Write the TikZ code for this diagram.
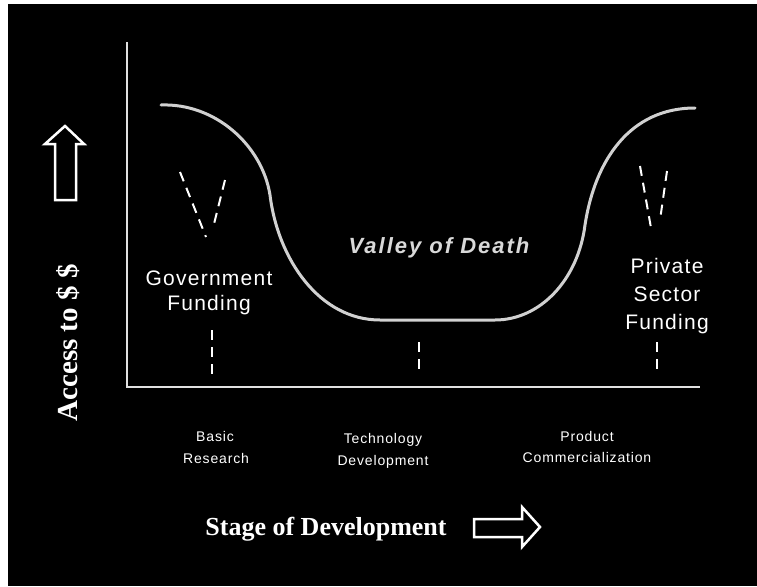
\documentclass[tikz,border=0pt]{standalone}
\usepackage{fontspec}
\setmainfont{Liberation Serif}
\newfontfamily\labelsans[LetterSpace=6]{Liberation Sans}
\newfontfamily\smallsans[LetterSpace=6]{Liberation Sans}
\newfontfamily\valleysans[LetterSpace=9]{Liberation Sans}
\begin{document}
\begin{tikzpicture}[x=1pt,y=-1pt,
  axisline/.style={draw=white!88!black,line width=2pt},
  curveline/.style={draw=white!82!black,line width=3pt,line cap=round},
  dashline/.style={draw=white,line width=2pt,dash pattern=on 10pt off 7pt},
  bigarrow/.style={draw=white,line width=2.5pt,line join=miter},
  fundlabel/.style={text=white,inner sep=0pt,anchor=base,font=\labelsans\fontsize{21}{25}\selectfont},
  stagelabel/.style={text=white,inner sep=0pt,anchor=base,font=\smallsans\fontsize{14}{17}\selectfont},
  axistitle/.style={text=white,inner sep=0pt,font=\bfseries\fontsize{26}{30}\selectfont}]
% page: thin white margin on the left and top, black field
\useasboundingbox (0,0) rectangle (757,586);
\fill[white] (0,0) rectangle (757,586);
\fill[black] (8,4) rectangle (757,586);

% axes
\coordinate (ytop) at (127,42);
\coordinate (origin) at (127,387);
\coordinate (xend) at (700,387);
\draw[axisline] (ytop) -- (origin) -- (xend);

% funding curve with the valley
\draw[curveline] (161,105) .. controls (215,103) and (262,145) .. (270,195)
  .. controls (278,260) and (320,320) .. (380,320)
  -- (495,320)
  .. controls (540,320) and (578,280) .. (585,225)
  .. controls (595,160) and (630,108) .. (695,108);

% dashed funnels
\coordinate (gl1) at (180,172); \coordinate (gl2) at (206,237);
\coordinate (gr1) at (225,180); \coordinate (gr2) at (213,228);
\draw[dashline] (gl1) -- (gl2);
\draw[dashline] (gr1) -- (gr2);
\coordinate (pl1) at (640,166); \coordinate (pl2) at (651,228);
\coordinate (pr1) at (667,171); \coordinate (pr2) at (660,220);
\draw[dashline] (pl1) -- (pl2);
\draw[dashline] (pr1) -- (pr2);

% dashed ticks down to the stage axis
\coordinate (t1a) at (212,330); \coordinate (t1b) at (212,375);
\coordinate (t2a) at (419,342); \coordinate (t2b) at (419,370);
\coordinate (t3a) at (657,342); \coordinate (t3b) at (657,373);
\draw[dashline] (t1a) -- (t1b);
\draw[dashline] (t2a) -- (t2b);
\draw[dashline] (t3a) -- (t3b);

% labels inside the plot
\node[fundlabel] (gov1) at (209,285) {Government};
\node[fundlabel] (gov2) at (209,310) {Funding};
\node[fundlabel] (priv1) at (667,273) {Private};
\node[fundlabel] (priv2) at (667,301) {Sector};
\node[fundlabel] (priv3) at (667,329) {Funding};
\node[text=white!85!black,inner sep=0pt,anchor=base,
  font=\valleysans\bfseries\itshape\fontsize{22}{26}\selectfont] (valley) at (439,253) {Valley of Death};

% stage labels
\node[stagelabel] (s1a) at (215,441) {Basic};
\node[stagelabel] (s1b) at (216,463) {Research};
\node[stagelabel] (s2a) at (383,443) {Technology};
\node[stagelabel] (s2b) at (383,465) {Development};
\node[stagelabel] (s3a) at (587,441) {Product};
\node[stagelabel] (s3b) at (587,462) {Commercialization};

% axis titles
\node[axistitle,anchor=base] (xtitle) at (326,535) {Stage of Development};
\node[axistitle,font=\bfseries\fontsize{29}{33}\selectfont,rotate=90,anchor=base] (ytitle) at (77,343) {Access to \$ \$};

% outline arrows
\draw[bigarrow] (65,126) -- (84,144) -- (76,144) -- (76,200) -- (55,200)
  -- (55,144) -- (45,144) -- cycle;
\draw[bigarrow] (540,527) -- (522,547) -- (522,537) -- (474,537) -- (474,519)
  -- (522,519) -- (522,507) -- cycle;
\end{tikzpicture}
\end{document}
